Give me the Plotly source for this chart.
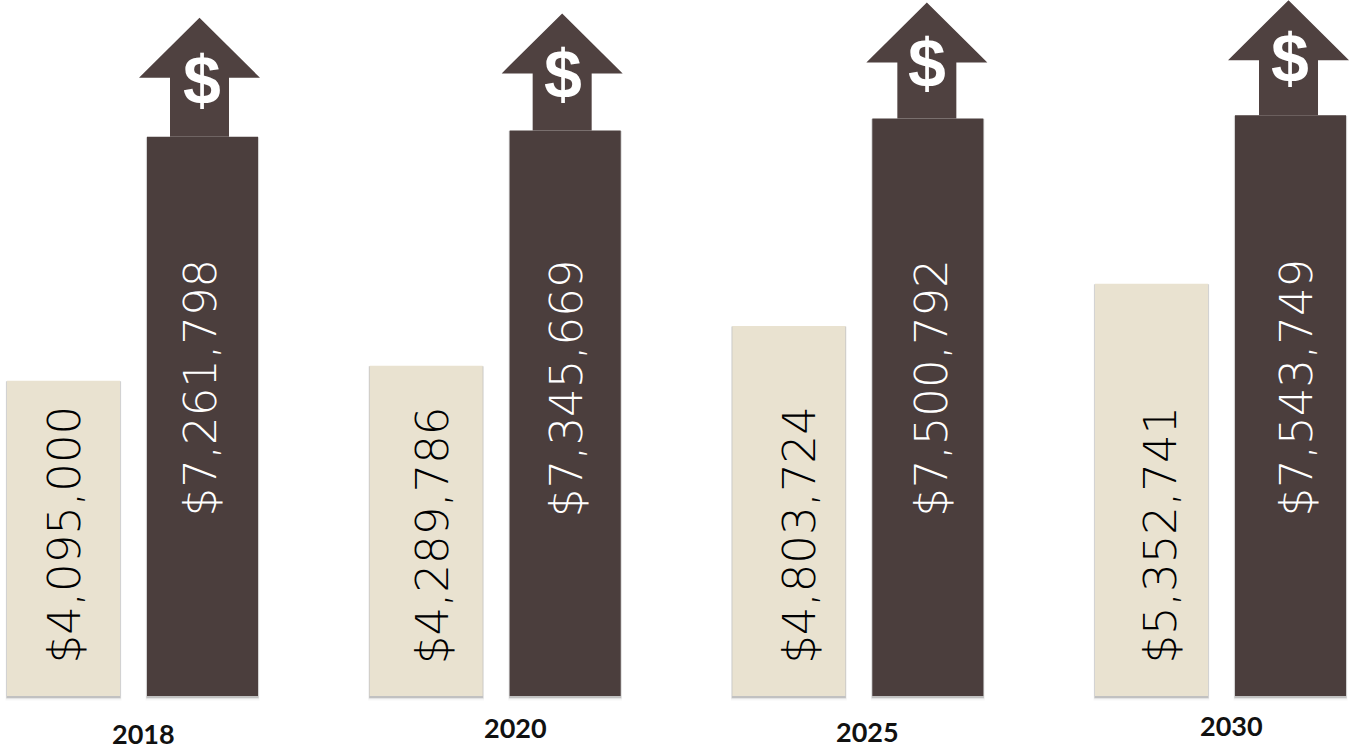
import plotly.graph_objects as go

years = ["2018", "2020", "2025", "2030"]
current_values = [4095000, 4289786, 4803724, 5352741]
projected_values = [7261798, 7345669, 7500792, 7543749]

CREAM = "#E9E2D0"
BROWN = "#4B3E3D"
ARROW = "#4F4140"

# Canvas scale: pixels per dollar and pixels per year group
PX_Y = 7.7e-5
PX_X = 362.67
X0 = 132.5
BASE = 696


def dx(px):
    return px / PX_X


def dy(px):
    return px / PX_Y


group = list(range(len(years)))
cream_x = [i - dx(69) for i in group]
brown_x = [i + dx(70) for i in group]

fig = go.Figure()

# Soft drop shadow under the bars
for xs, vals, w in ((cream_x, current_values, dx(113)), (brown_x, projected_values, dx(111))):
    for spread, alpha in ((4, 0.05), (2.5, 0.10), (1.5, 0.22)):
        fig.add_bar(
            x=xs, y=[v + dy(spread) for v in vals], base=dy(-spread - 0.5), width=w + dx(spread * 0.7),
            marker=dict(color=f"rgba(70,70,70,{alpha})", line_width=0),
            hoverinfo="skip", showlegend=False,
        )

fig.add_bar(x=cream_x, y=current_values, width=dx(113), name="Current",
            marker=dict(color=CREAM, line_width=0), showlegend=False)
fig.add_bar(x=brown_x, y=projected_values, width=dx(111), name="Projected",
            marker=dict(color=BROWN, line_width=0), showlegend=False)

# Up arrows sitting on top of the projected bars
tip_lift = [119, 117, 116, 115]
tip_shift = [-3, -3, -1, -2]
sign_shift = [2.5, 1, 0, 1]
sign_drop = [62, 61, 61, 58]
for i, val in enumerate(projected_values):
    cx = brown_x[i] + dx(tip_shift[i])
    tip = val + dy(tip_lift[i])
    wing = tip - dy(60)
    fig.add_scatter(
        x=[cx, cx + dx(60.5), cx + dx(29.5), cx + dx(29.5), cx - dx(29.5), cx - dx(29.5), cx - dx(60.5), cx],
        y=[tip, wing, wing, val, val, wing, wing, tip],
        mode="lines", fill="toself", fillcolor=ARROW, line=dict(color=ARROW, width=0),
        hoverinfo="skip", showlegend=False,
    )
    fig.add_annotation(
        x=cx + dx(sign_shift[i]), y=tip - dy(sign_drop[i]), text="$", showarrow=False, xref="x", yref="y",
        font=dict(family="Liberation Sans", size=68, color="white", weight="bold"),
        xanchor="center", yanchor="middle",
    )

# Rotated dollar labels inside the bars
cream_label_shift = [0, 6, 10, 8]
brown_label_shift = [-3, 1, 3, 5]
for i in group:
    fig.add_annotation(
        x=cream_x[i] + dx(cream_label_shift[i]), y=dy(161), text=f"${current_values[i]:,}",
        textangle=-90, showarrow=False,
        font=dict(family="DejaVu Sans", size=45, color="#000000", weight=200),
    )
    fig.add_annotation(
        x=brown_x[i] + dx(brown_label_shift[i]), y=dy(308), text=f"${projected_values[i]:,}",
        textangle=-90, showarrow=False,
        font=dict(family="DejaVu Sans", size=45, color="white", weight=200),
    )

# Year captions, each set at its own height below the baseline
year_shift = [11, 20, 10, 11]
year_drop = [37, 31, 35, 29]
for i in group:
    fig.add_annotation(
        x=i + dx(year_shift[i]), y=dy(-year_drop[i]), text=years[i], showarrow=False,
        font=dict(family="Lato", size=27, color="#111111", weight="bold"),
    )

fig.update_layout(
    width=1350, height=750,
    margin=dict(l=0, r=0, t=0, b=0),
    barmode="overlay",
    paper_bgcolor="white", plot_bgcolor="white",
    xaxis=dict(range=[-X0 / PX_X, (1350 - X0) / PX_X], visible=False),
    yaxis=dict(range=[dy(BASE - 750), dy(BASE)], visible=False),
)

fig.write_html("out.html")
